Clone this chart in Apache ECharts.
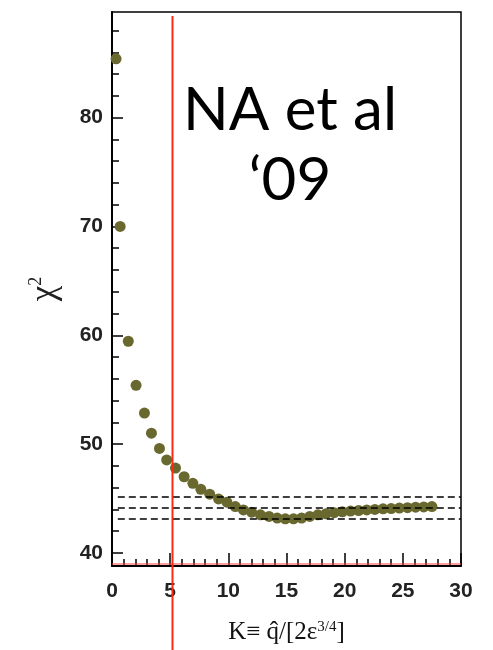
<!DOCTYPE html>
<html>
<head>
<meta charset="utf-8">
<script src="https://cdn.jsdelivr.net/npm/echarts@6/dist/echarts.min.js"></script>
<style>
  html, body { margin: 0; padding: 0; background: #fff; }
  #chart { width: 493px; height: 650px; }
</style>
</head>
<body>
<div id="chart"></div>
<script>
// chi^2 scan versus K
const kValues = [0.35, 0.7, 1.4, 2.07, 2.79, 3.39, 4.08, 4.7, 5.46, 6.2, 6.95, 7.64, 8.4, 9.16, 9.88,
  10.6, 11.3, 12.0, 12.76, 13.5, 14.2, 14.9, 15.6, 16.3, 17.0, 17.7, 18.4, 19.1, 19.8, 20.5,
  21.2, 21.9, 22.6, 23.3, 24.0, 24.7, 25.4, 26.1, 26.8, 27.5];
const chi2Values = [85.4, 70.0, 59.45, 55.4, 52.85, 51.0, 49.6, 48.55, 47.8, 47.0, 46.4, 45.85, 45.4, 44.96, 44.66,
  44.26, 43.95, 43.74, 43.5, 43.35, 43.2, 43.13, 43.13, 43.2, 43.35, 43.5, 43.6, 43.7, 43.78, 43.85,
  43.9, 43.95, 44.0, 44.05, 44.08, 44.12, 44.16, 44.2, 44.23, 44.26];

// chi^2_min, +1, +2 reference levels
const chi2Levels = [43.17, 44.17, 45.17];
// chosen K value
const kMarker = 5.2;

const xTicks = [0, 5, 10, 15, 20, 25, 30];
const yTicks = [40, 50, 60, 70, 80];
const yMinorTicks = [40, 42, 44, 46, 48, 50, 52, 54, 56, 58, 60, 62, 64, 66, 68, 70, 72, 74, 76, 78, 80, 82, 84, 86, 88];

const xMin = 0, xMax = 30, yMin = 38.8, yMax = 89.7;

const chart = echarts.init(document.getElementById('chart'), null, { renderer: 'canvas' });

const tickFont = { fontFamily: 'Liberation Sans', fontWeight: 'bold', fontSize: 21, color: '#222' };

chart.setOption({
  animation: false,
  grid: { left: 112, right: 32, top: 12, bottom: 81, show: true, borderColor: '#000', borderWidth: 1.5 },
  xAxis: {
    type: 'value', min: xMin, max: xMax, interval: 5,
    name: '{a|K≡ q\u0302/[2ε}{s|3/4}{a|]}',
    nameLocation: 'middle', nameGap: 54,
    nameTextStyle: {
      rich: {
        a: { fontFamily: 'Liberation Serif', fontSize: 25, color: '#111' },
        s: { fontFamily: 'Liberation Serif', fontSize: 15, color: '#111', verticalAlign: 'top', padding: [0, 0, 10, 0] }
      }
    },
    axisLine: { show: true, lineStyle: { color: '#000', width: 2 } },
    axisTick: { show: true, inside: true, length: 13, lineStyle: { color: '#000', width: 1.5 } },
    minorTick: { show: true, splitNumber: 5, length: 7, lineStyle: { color: '#000', width: 1.5 } },
    axisLabel: Object.assign({ margin: 15, customValues: xTicks }, tickFont),
    splitLine: { show: false }
  },
  yAxis: [
    {
      type: 'value', min: yMin, max: yMax,
      name: '{c|χ}{s|2}',
      nameLocation: 'middle', nameGap: 50, nameRotate: 90,
      nameTextStyle: {
        rich: {
          c: { fontFamily: 'Liberation Serif', fontSize: 35, color: '#222' },
          s: { fontFamily: 'Liberation Serif', fontSize: 18, color: '#222', verticalAlign: 'top', padding: [0, 0, 15, 0] }
        }
      },
      axisLine: { show: true, lineStyle: { color: '#000', width: 2 } },
      axisTick: { show: true, inside: true, length: 11, customValues: yTicks, lineStyle: { color: '#000', width: 1.5 } },
      axisLabel: Object.assign({ margin: 9, customValues: yTicks }, tickFont),
      splitLine: { show: false }
    },
    {
      // minor tick marks every 2 units
      type: 'value', min: yMin, max: yMax, position: 'left',
      axisLine: { show: false },
      axisTick: { show: true, inside: true, length: 7, customValues: yMinorTicks, lineStyle: { color: '#000', width: 1.5 } },
      axisLabel: { show: false },
      splitLine: { show: false }
    }
  ],
  series: [
    {
      type: 'scatter',
      data: kValues.map((k, i) => [k, chi2Values[i]]),
      symbol: 'circle', symbolSize: 11,
      itemStyle: { color: '#69692f', opacity: 1 },
      markLine: {
        silent: true, symbol: 'none', label: { show: false },
        lineStyle: { color: '#000', type: [7, 4], width: 1.5 },
        data: chi2Levels.map(v => [{ coord: [0.5, v] }, { coord: [xMax, v] }])
      },
      z: 3
    }
  ]
});

// vertical marker at the chosen K (runs past the plot, down to the page edge) and red base line
const markerTop = chart.convertToPixel({ gridIndex: 0 }, [kMarker, yMax]);
const base0 = chart.convertToPixel({ gridIndex: 0 }, [xMin, yMin]);
const base1 = chart.convertToPixel({ gridIndex: 0 }, [xMax, yMin]);
chart.setOption({
  graphic: [
    {
      type: 'line', z: 10,
      shape: { x1: markerTop[0], y1: markerTop[1] + 4, x2: markerTop[0], y2: 650 },
      style: { stroke: '#ff2a14', lineWidth: 2 }
    },
    {
      type: 'line', z: 9,
      shape: { x1: base0[0], y1: base0[1] - 2, x2: base1[0], y2: base1[1] - 2 },
      style: { stroke: '#ff4040', lineWidth: 1.2 }
    },
    {
      type: 'text', z: 11,
      x: 290, y: 76,
      style: {
        text: 'NA et al\n‘09',
        font: '60px Lato',
        lineHeight: 70,
        align: 'center',
        fill: '#000'
      }
    }
  ]
});
</script>
</body>
</html>
